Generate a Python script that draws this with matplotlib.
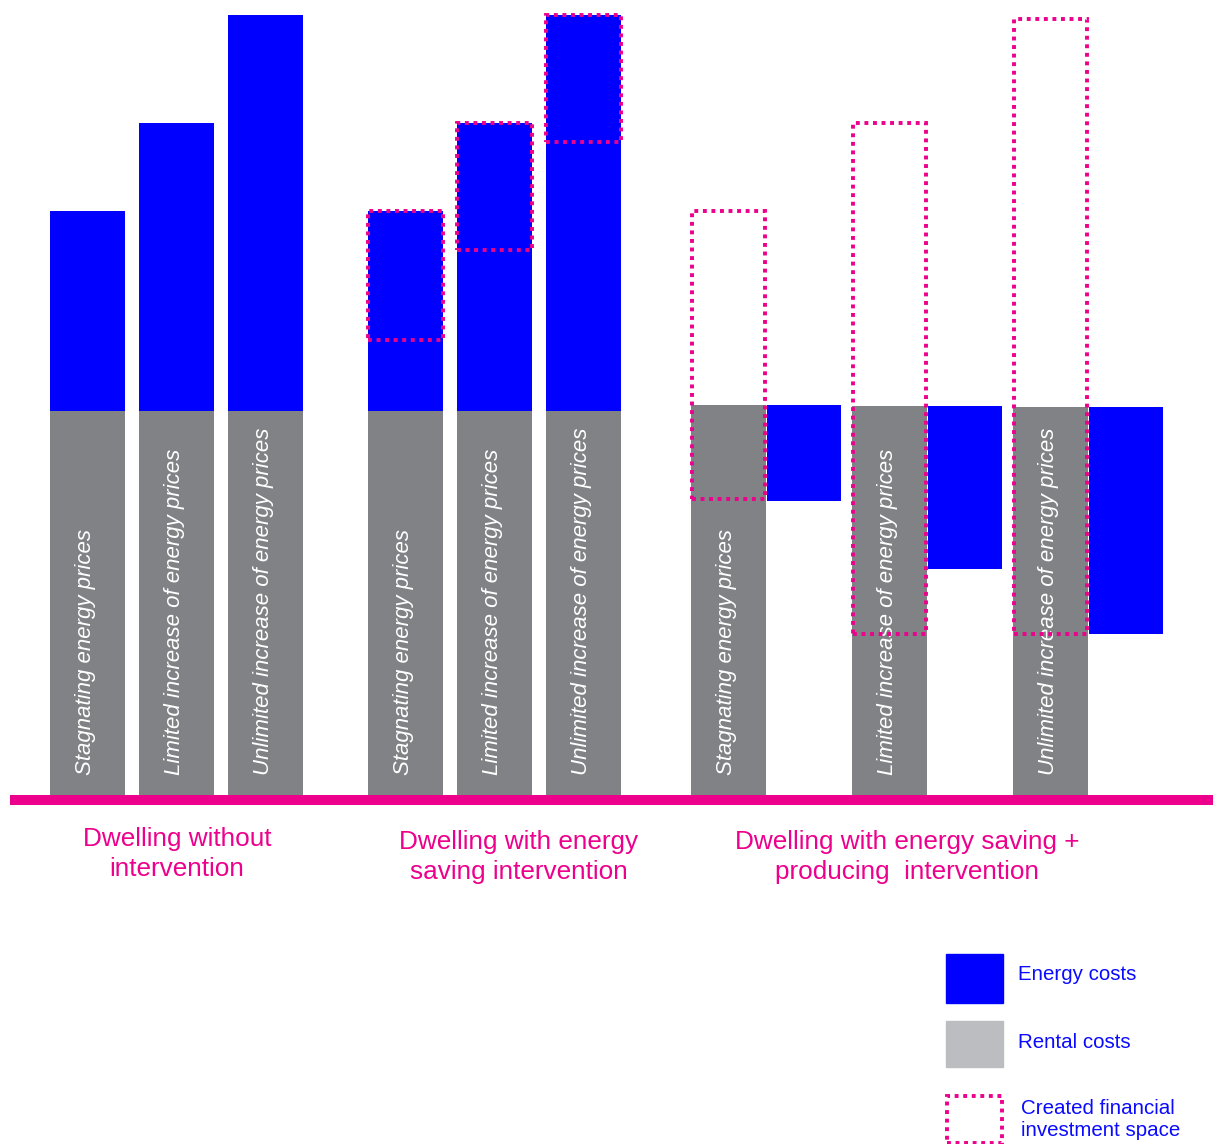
import matplotlib.pyplot as plt
from matplotlib.patches import Rectangle

# Data (index units: rental cost of a plain dwelling = 100)
groups = ['Dwelling without\nintervention',
          'Dwelling with energy\nsaving intervention',
          'Dwelling with energy saving +\nproducing  intervention']
scenarios = ['Stagnating energy prices',
             'Limited increase of energy prices',
             'Unlimited increase of energy prices']
rental_g1 = [100, 100, 100]
energy_g1 = [52, 75, 103]
rental_g2 = [100, 100, 100]
energy_g2 = [52, 75, 103]
saved_g2 = [33.5, 33, 33]
rental_g3 = [101.5, 101.3, 101]
energy_g3 = [25, 42.5, 59]
space_g3_bottom = [77, 42, 42]
space_g3_top = [152, 175, 202]

# Colours
BLUE = '#0000ff'
GREY = '#818285'
LIGHT_GREY = '#bcbdc0'
PINK = '#ec008c'
DOTS = (0, (1, 1.2))

W, H = 1213, 1144
K = 3.84  # pixels per unit


def px(x, y):
    return x / W, 1 - y / H


fig = plt.figure(figsize=(W / 100, H / 100), dpi=100)
ax = fig.add_axes([0, 0, 1, 1])
ax.set_xlim(0, W)
ax.set_ylim(-(H - 795) / K, 795 / K)
ax.axis('off')

bw = 75
lefts_g1 = [50 + 89 * i for i in range(3)]
lefts_g2 = [368 + 89 * i for i in range(3)]
lefts_g3 = [691 + 161 * i for i in range(3)]

bar_kw = dict(width=bw, align='edge')
# Group 1
ax.bar(lefts_g1, rental_g1, color=GREY, **bar_kw)
ax.bar(lefts_g1, energy_g1, bottom=rental_g1, color=BLUE, **bar_kw)
# Group 2
ax.bar(lefts_g2, rental_g2, color=GREY, **bar_kw)
ax.bar(lefts_g2, energy_g2, bottom=rental_g2, color=BLUE, **bar_kw)
tops_g2 = [r + e for r, e in zip(rental_g2, energy_g2)]
ax.bar(lefts_g2, saved_g2, bottom=[t - s for t, s in zip(tops_g2, saved_g2)],
       fill=False, edgecolor=PINK, linewidth=2.8, linestyle=DOTS, zorder=4,
       **bar_kw)
# Group 3: energy cost hangs beside the rental bar
ax.bar(lefts_g3, rental_g3, color=GREY, **bar_kw)
ax.bar([x + bw + 1 for x in lefts_g3], energy_g3,
       bottom=[r - e for r, e in zip(rental_g3, energy_g3)],
       color=BLUE, width=bw - 1, align='edge')
ax.bar([x + 1 for x in lefts_g3],
       [t - b for t, b in zip(space_g3_top, space_g3_bottom)],
       bottom=space_g3_bottom, fill=False, edgecolor=PINK, linewidth=2.8,
       linestyle=DOTS, zorder=4, width=bw - 2, align='edge')

# Scenario labels inside the rental bars
for lefts in (lefts_g1, lefts_g2, lefts_g3):
    for x, label in zip(lefts, scenarios):
        ax.text(x + bw / 2 - 2, 20 / K, label, rotation=90, ha='center',
                va='bottom', color='white', fontsize=16, style='italic',
                family='Liberation Sans', zorder=3)

# Base line
ax.fill_between([10, W], -10 / K, 0, color=PINK, linewidth=0)

# Group labels
for (x, y), label in zip([(177, 854), (519, 857), (907, 857)], groups):
    fig.text(*px(x, y), label, ha='center', va='center', color=PINK,
             fontsize=18.8, family='Liberation Sans', linespacing=1.33)

# Legend
fig.add_artist(Rectangle(px(946, 1003), 57 / W, 49 / H, color=BLUE,
                         transform=fig.transFigure))
fig.add_artist(Rectangle(px(946, 1067), 57 / W, 46 / H, color=LIGHT_GREY,
                         transform=fig.transFigure))
fig.add_artist(Rectangle(px(947, 1143), 55 / W, 47 / H, fill=False,
                         edgecolor=PINK, linewidth=2.8, linestyle=DOTS,
                         transform=fig.transFigure))
legend_kw = dict(color='#0a0aff', fontsize=14.8, family='Liberation Sans',
                 va='center', ha='left')
fig.text(*px(1018, 974), 'Energy costs', **legend_kw)
fig.text(*px(1018, 1042), 'Rental costs', **legend_kw)
fig.text(*px(1021, 1119), 'Created financial\ninvestment space',
         linespacing=1.2, **legend_kw)

fig.savefig('out.png', dpi=100)
plt.close(fig)
